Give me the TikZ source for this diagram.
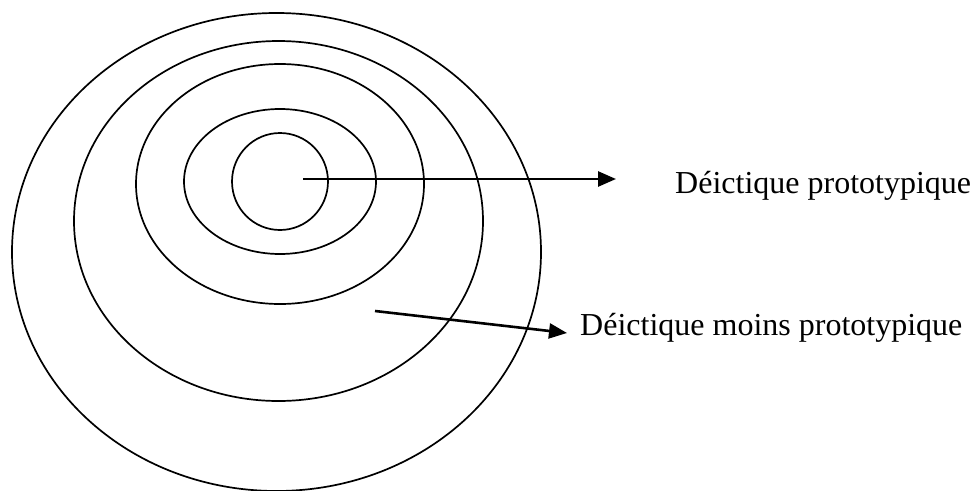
\documentclass[tikz,border=0pt]{standalone}
\usepackage{fontspec}
\setmainfont{Liberation Serif}
\usetikzlibrary{arrows.meta}
\begin{document}
\begin{tikzpicture}[x=1pt,y=-1pt,
  ring/.style={draw=black,line width=1.7pt},
  pointer/.style={draw=black,line width=2.6pt,-{Triangle[length=18pt,width=15pt]}},
  lbl/.style={anchor=base west,inner sep=0pt,font=\fontsize{32}{38}\selectfont}]
\useasboundingbox (0,0) rectangle (976,490);
\draw[ring] (276.5,252) ellipse [x radius=264.5, y radius=239];
\draw[ring] (278.5,221) ellipse [x radius=204.5, y radius=180];
\draw[ring] (280,184) ellipse [x radius=144, y radius=120];
\draw[ring] (280,181.5) ellipse [x radius=96, y radius=72.5];
\draw[ring] (280,181.5) ellipse [x radius=48, y radius=48.5];
\node[lbl] (t1) at (675,193) {Déictique prototypique};
\node[lbl] (t2) at (580,335) {Déictique moins prototypique};
\coordinate (s1) at (303,179);
\coordinate (e1) at (616,179);
\coordinate (s2) at (375,311);
\coordinate (e2) at (567,333);
\draw[pointer] (s1) -- (e1);
\draw[pointer] (s2) -- (e2);
\end{tikzpicture}
\end{document}
